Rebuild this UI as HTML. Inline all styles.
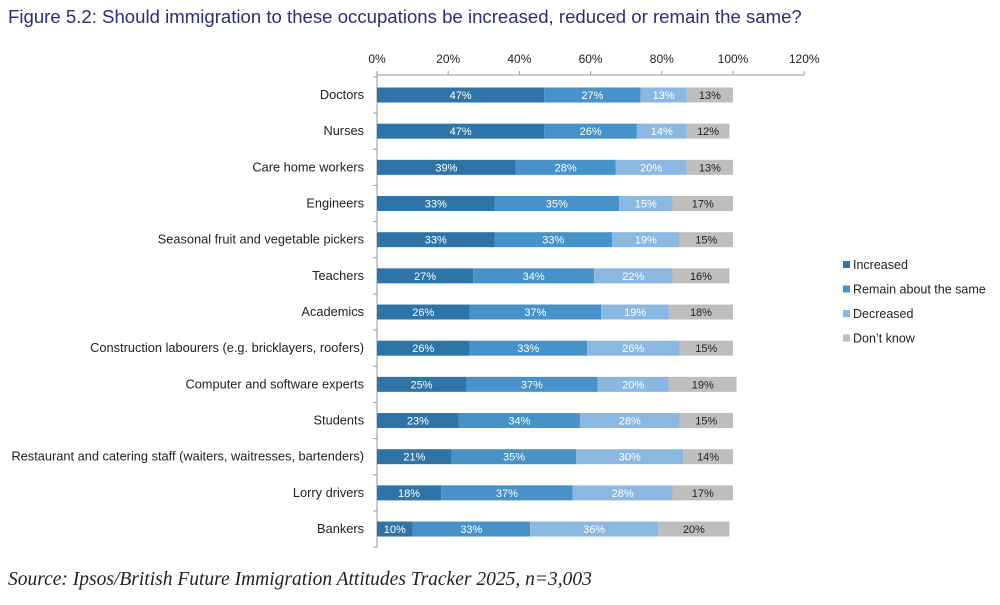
<!DOCTYPE html>
<html><head><meta charset="utf-8">
<style>
body{margin:0;background:#fff;width:1000px;height:600px;overflow:hidden;font-family:"Liberation Sans",sans-serif;}
svg text{font-family:"Liberation Sans",sans-serif;}
</style></head>
<body>
<svg id="chart" width="1000" height="600">
<text x="8" y="23" font-size="18.6" fill="#2b2d7a">Figure 5.2: Should immigration to these occupations be increased, reduced or remain the same?</text>
<text x="8" y="585" font-size="19.5" font-style="italic" fill="#222" style="font-family:'Liberation Serif',serif">Source: Ipsos/British Future Immigration Attitudes Tracker 2025, n=3,003</text>
<g id="plot"></g>
</svg>
<script>
const categories=["Doctors","Nurses","Care home workers","Engineers","Seasonal fruit and vegetable pickers","Teachers","Academics","Construction labourers (e.g. bricklayers, roofers)","Computer and software experts","Students","Restaurant and catering staff (waiters, waitresses, bartenders)","Lorry drivers","Bankers"];
const increased=[47,47,39,33,33,27,26,26,25,23,21,18,10];
const remain=[27,26,28,35,33,34,37,33,37,34,35,37,33];
const decreased=[13,14,20,15,19,22,19,26,20,28,30,28,36];
const dontKnow=[13,12,13,17,15,16,18,15,19,15,14,17,20];
const ticks=[0,20,40,60,80,100,120];
const seriesNames=["Increased","Remain about the same","Decreased","Don’t know"];
const series=[increased,remain,decreased,dontKnow];
const colors=["#2f74a6","#4692c9","#8bb8e0","#bebebe"];
const textColors=["#fff","#fff","#fff","#222"];
const NS="http://www.w3.org/2000/svg";
const g=document.getElementById("plot");
const x0=377,pxPer=3.56,y0=95,step=36.17,bh=15,axisY=75;
const X=v=>x0+v*pxPer;
const Y=i=>y0+i*step;
function el(t,a){const e=document.createElementNS(NS,t);for(const k in a)e.setAttribute(k,a[k]);g.appendChild(e);return e;}
let ax=el("line",{x1:x0,y1:axisY,x2:X(120),y2:axisY,stroke:"#999"});


let ay=el("line",{x1:x0,y1:axisY,x2:x0,y2:Y(categories.length-0.5),stroke:"#999"});


ticks.forEach(t=>{
  el("line",{x1:X(t),y1:axisY,x2:X(t),y2:axisY-4,stroke:"#999"});
  const tx=el("text",{x:X(t),y:axisY-12,"text-anchor":"middle","font-size":"12",fill:"#222"});
  tx.textContent=t+"%";
  
  
});
for(let i=0;i<=categories.length;i++){el("line",{x1:x0-4,y1:Y(i-0.5),x2:x0,y2:Y(i-0.5),stroke:"#999"});}
categories.forEach((c,i)=>{
  const lb=el("text",{x:364,y:Y(i)+4,"text-anchor":"end","font-size":"12.8",fill:"#222"});
  lb.textContent=c;
  
  
  let acc=0;
  series.forEach((s,k)=>{
    const v=s[i];
    const r=el("rect",{x:X(acc),y:Y(i)-bh/2,width:v*pxPer,height:bh,fill:colors[k]});
    
    
    const t=el("text",{x:X(acc+v/2),y:Y(i)+4,"text-anchor":"middle","font-size":"11",fill:textColors[k]});
    t.textContent=v+"%";
    
    
    acc+=v;
  });
});
seriesNames.forEach((n,k)=>{
  const ly=265+k*24.5;
  const sq=el("rect",{x:843,y:ly-4,width:7,height:7,fill:colors[k]});
  
  
  const t=el("text",{x:853,y:ly+4,"font-size":"12.5",fill:"#222"});
  t.textContent=n;
  
  
});
</script>
</body></html>
